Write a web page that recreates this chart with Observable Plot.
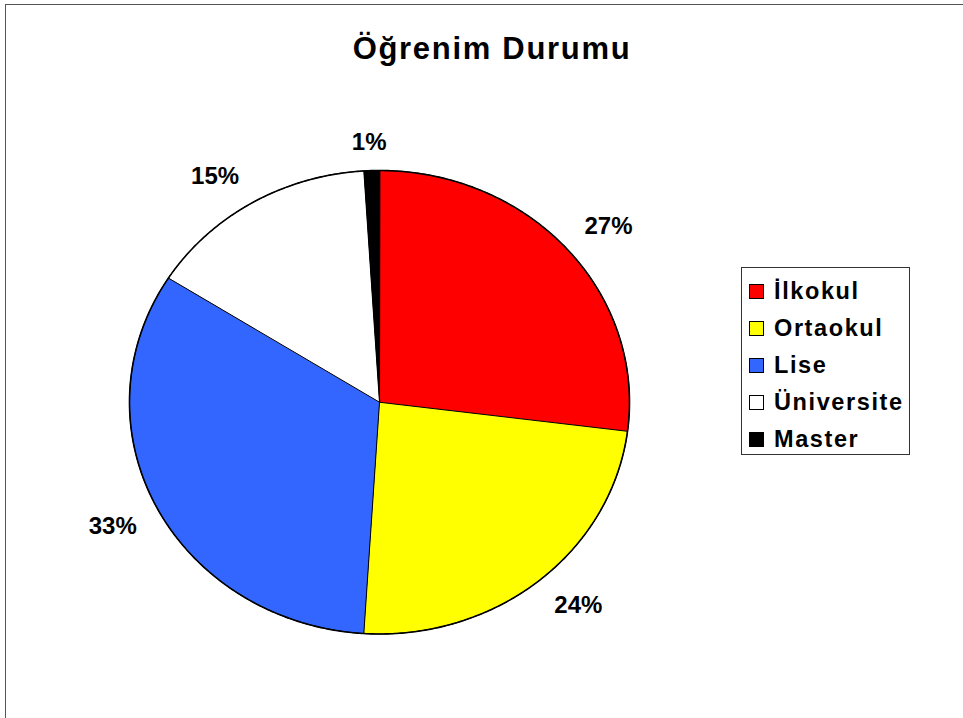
<!DOCTYPE html>
<html><head><meta charset="utf-8">
<script src="https://cdn.jsdelivr.net/npm/d3@7"></script>
<script src="https://cdn.jsdelivr.net/npm/@observablehq/plot@0.6"></script>
<style>
body{margin:0;background:#fff;font-family:"Liberation Sans",Arial,sans-serif;}
#wrap{position:relative;width:963px;height:718px;overflow:hidden;}
#wrap svg{position:absolute;left:0;top:0;}
#border{position:absolute;left:5px;top:4px;width:2000px;height:2000px;border-left:1px solid #555;border-top:1px solid #555;pointer-events:none;}
#legend{position:absolute;left:741px;top:267px;width:169px;height:188px;border:1px solid #333;background:#fff;box-sizing:border-box;}
.item{position:absolute;left:7px;height:30px;display:flex;align-items:center;font-weight:bold;font-size:23.5px;letter-spacing:1.6px;color:#000;white-space:nowrap;}
.sw{width:13px;height:13px;border:1px solid #000;margin-right:10px;flex:none;}
</style></head><body><div id="wrap"><div id="border"></div></div>
<script>
const title = "Öğrenim Durumu";
const categories = ["İlkokul", "Ortaokul", "Lise", "Üniversite", "Master"];
const values = [27, 24, 33, 15, 1];
const colors = ["#FF0000", "#FFFF00", "#3366FF", "#FFFFFF", "#000000"];

const CX0 = 129, CX1 = 629, CY0 = 633.5, CY1 = 170;
const RX = (CX1 - CX0) / 2, RY = (CY0 - CY1) / 2;

const rows = categories.map((name, i) => ({name, value: values[i]}));
const total = d3.sum(values);
const arcs = d3.pie().sort(null).value(d => d.value).startAngle(0).endAngle(2 * Math.PI)(rows);

// slice polygons (geometry from d3.pie angles)
const pts = [];
for (const a of arcs) {
  const name = a.data.name;
  pts.push({name, x: 0, y: 0});
  const n = Math.max(2, Math.ceil((a.endAngle - a.startAngle) / (Math.PI / 360)));
  for (let k = 0; k <= n; k++) {
    const t = a.startAngle + (a.endAngle - a.startAngle) * k / n;
    pts.push({name, x: Math.sin(t), y: Math.cos(t)});
  }
}
const outline = d3.range(0, 721).map(k => ({x: Math.sin(k * Math.PI / 360), y: Math.cos(k * Math.PI / 360)}));

// outside-end label placement: box corner offset from the rim at mid angle
const clamp = v => Math.max(-1, Math.min(1, v));
const labels = arcs.map(a => {
  const m = (a.startAngle + a.endAngle) / 2;
  const s = Math.sin(m), c = Math.cos(m);
  const text = Math.round(a.data.value / total * 100) + "%";
  const w = text.length * 16 + 8, h = 21, g = 18;
  const ox = s * g + clamp(3 * s) * w / 2;
  const oy = c * g + clamp(3 * c) * h / 2;
  return {text, x: s + ox / RX, y: c + oy / RY};
});

const chart = Plot.plot({
  width: 963, height: 718,
  marginTop: 0, marginRight: 0, marginBottom: 0, marginLeft: 0,
  x: {domain: [-1, 1], range: [CX0, CX1], axis: null},
  y: {domain: [-1, 1], range: [CY0, CY1], axis: null},
  color: {domain: categories, range: colors},
  style: {fontFamily: "'Liberation Sans', Arial, sans-serif", background: "transparent"},
  marks: [
    Plot.line(pts, {x: "x", y: "y", z: "name", fill: "name", stroke: "#000", strokeWidth: 1, curve: "linear-closed"}),
    Plot.line(outline, {x: "x", y: "y", stroke: "#000", strokeWidth: 1.6, fill: "none"}),
    Plot.text(labels, {x: "x", y: "y", text: "text", fontSize: 24, fontWeight: "bold", fill: "#000"}),
    Plot.text([title], {frameAnchor: "top", text: d => d, dx: 10, dy: 36, lineAnchor: "top", fontSize: 31, fontWeight: "bold", fill: "#000"})
  ]
});
// title letter spacing
const texts = chart.querySelectorAll("text");
texts.forEach(t => { if (t.textContent === title) t.style.letterSpacing = "1.7px"; });
const wrap = document.getElementById("wrap");
wrap.insertBefore(chart, wrap.firstChild);

const legend = document.createElement("div");
legend.id = "legend";
categories.forEach((c, i) => {
  const it = document.createElement("div");
  it.className = "item";
  it.style.top = (8 + i * 37) + "px";
  const sw = document.createElement("span");
  sw.className = "sw";
  sw.style.background = colors[i];
  const tx = document.createElement("span");
  tx.textContent = c;
  it.appendChild(sw); it.appendChild(tx);
  legend.appendChild(it);
});
wrap.appendChild(legend);
</script>
</body></html>
